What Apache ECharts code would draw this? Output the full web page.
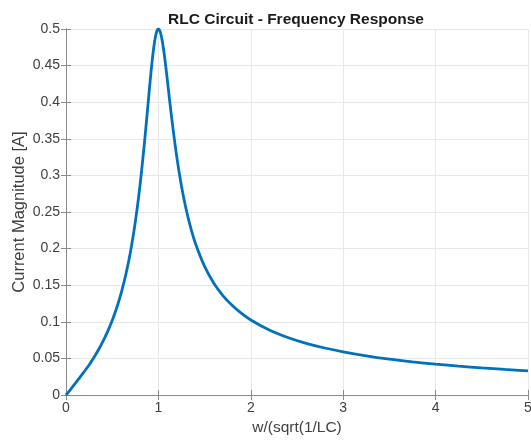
<!DOCTYPE html>
<html>
<head>
<meta charset="utf-8">
<script src="https://cdn.jsdelivr.net/npm/echarts@6/dist/echarts.min.js"></script>
<style>
html,body{margin:0;padding:0;background:#fff;}
#chart{width:531px;height:440px;}
</style>
</head>
<body>
<div id="chart"></div>
<script>
var xValues = [0, 0.05, 0.1, 0.15, 0.2, 0.25, 0.3, 0.35, 0.4, 0.45, 0.5, 0.55, 0.6, 0.65, 0.7, 0.75, 0.8, 0.85, 0.88, 0.9, 0.92, 0.94, 0.96, 0.98, 1.0, 1.02, 1.04, 1.06, 1.08, 1.1, 1.12, 1.15, 1.2, 1.25, 1.3, 1.35, 1.4, 1.5, 1.6, 1.7, 1.8, 1.9, 2.0, 2.2, 2.4, 2.6, 2.8, 3.0, 3.25, 3.5, 3.75, 4.0, 4.25, 4.5, 4.75, 5.0];
var currentValues = [0, 0.0078, 0.0158, 0.024, 0.0325, 0.041, 0.0508, 0.0615, 0.0733, 0.0866, 0.1018, 0.1196, 0.1406, 0.1659, 0.1971, 0.2361, 0.2852, 0.3457, 0.3866, 0.4143, 0.441, 0.4649, 0.4837, 0.4959, 0.5, 0.496, 0.4849, 0.4685, 0.4485, 0.4267, 0.4044, 0.3721, 0.3243, 0.2852, 0.2537, 0.2282, 0.2073, 0.1756, 0.1526, 0.1355, 0.1222, 0.1114, 0.1025, 0.0888, 0.0786, 0.0706, 0.0642, 0.059, 0.0535, 0.049, 0.0453, 0.0421, 0.0394, 0.037, 0.0349, 0.033];
var xTicks = [0, 1, 2, 3, 4, 5];
var yTicks = [0, 0.05, 0.1, 0.15, 0.2, 0.25, 0.3, 0.35, 0.4, 0.45, 0.5];
var titleText = 'RLC Circuit - Frequency Response';
var xName = 'w/(sqrt(1/LC)';
var yName = 'Current Magnitude [A]';

var seriesData = xValues.map(function (x, i) { return [x, currentValues[i]]; });
var font = 'Liberation Sans, Arial, Helvetica, sans-serif';
var axisColor = '#8a8a8a';
var labelColor = '#404040';

var chart = echarts.init(document.getElementById('chart'), null, {renderer: 'canvas'});
chart.setOption({
  animation: false,
  backgroundColor: '#ffffff',
  title: {
    text: titleText,
    left: 291, top: 7, textAlign: 'center',
    textStyle: {fontFamily: font, fontSize: 15.5, fontWeight: 'bold', color: '#1a1a1a'}
  },
  grid: {left: 66, right: 3, top: 29, bottom: 45, containLabel: false, outerBoundsMode: 'none'},
  xAxis: [{
    type: 'value', min: xTicks[0], max: xTicks[xTicks.length - 1], interval: 1,
    name: xName, nameLocation: 'middle', nameGap: 20,
    nameTextStyle: {fontFamily: font, fontSize: 15.5, color: labelColor},
    axisLine: {show: true, lineStyle: {color: axisColor, width: 1}},
    axisTick: {show: true, inside: true, length: 5, lineStyle: {color: axisColor}},
    axisLabel: {fontFamily: font, fontSize: 14, color: labelColor, margin: 6},
    splitLine: {show: true, lineStyle: {color: '#e8e8e8', width: 1}}
  }, {
    type: 'value', min: xTicks[0], max: xTicks[xTicks.length - 1], interval: 1, position: 'top',
    axisLine: {show: true, lineStyle: {color: axisColor, width: 1}},
    axisTick: {show: true, inside: true, length: 5, lineStyle: {color: axisColor}},
    axisLabel: {show: false}, splitLine: {show: false}
  }],
  yAxis: [{
    type: 'value', min: yTicks[0], max: yTicks[yTicks.length - 1], interval: 0.05,
    name: yName, nameLocation: 'middle', nameGap: 38, nameRotate: 90, nameMoveOverlap: false,
    nameTextStyle: {fontFamily: font, fontSize: 16.5, color: labelColor},
    axisLine: {show: true, lineStyle: {color: axisColor, width: 1}},
    axisTick: {show: true, inside: true, length: 5, lineStyle: {color: axisColor}},
    axisLabel: {fontFamily: font, fontSize: 14, color: labelColor, margin: 6,
      formatter: function (v) { return String(+v.toFixed(2)); }},
    splitLine: {show: true, lineStyle: {color: '#e8e8e8', width: 1}}
  }, {
    type: 'value', min: yTicks[0], max: yTicks[yTicks.length - 1], interval: 0.05, position: 'right',
    axisLine: {show: true, lineStyle: {color: axisColor, width: 1}},
    axisTick: {show: true, inside: true, length: 5, lineStyle: {color: axisColor}},
    axisLabel: {show: false}, splitLine: {show: false}
  }],
  series: [{
    type: 'line', data: seriesData, xAxisIndex: 0, yAxisIndex: 0,
    showSymbol: false, smooth: 0.3,
    lineStyle: {color: '#0072BD', width: 2.8},
    itemStyle: {color: '#0072BD'}
  }]
});
</script>
</body>
</html>
